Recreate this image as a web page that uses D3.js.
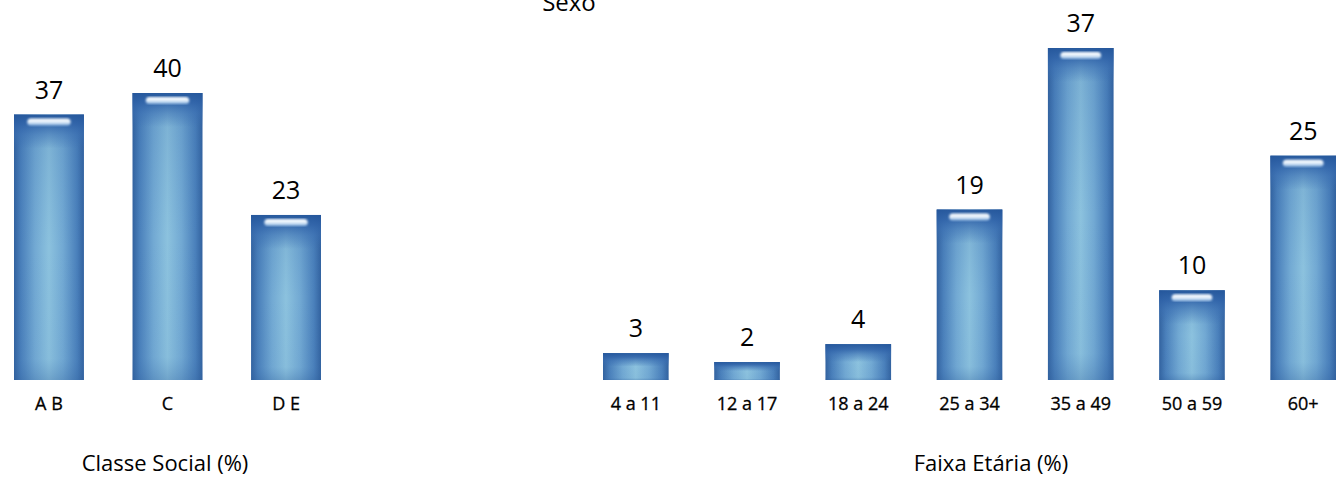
<!DOCTYPE html>
<html>
<head>
<meta charset="utf-8">
<script src="https://cdn.jsdelivr.net/npm/d3@7"></script>
<style>
	body { margin: 0; background: #fff; }
	svg text { font-family: "Open Sans", sans-serif; fill: #000; }
</style>
</head>
<body>
<svg id="svg"></svg>
<script>
// data
const classeCategories = ['A B', 'C', 'D E'];
const classeValues = [37, 40, 23];
const faixaCategories = ['4 a 11', '12 a 17', '18 a 24', '25 a 34', '35 a 49', '50 a 59', '60+'];
const faixaValues = [3, 2, 4, 19, 37, 10, 25];

const width = 1343;
const height = 479;
const baseline = 380;

const svg = d3.select('#svg').attr('width', width).attr('height', height);
const defs = svg.append('defs');

// glossy bar fills
const hGrad = defs.append('linearGradient').attr('id', 'barH').attr('x1', 0).attr('x2', 1).attr('y1', 0).attr('y2', 0);
[[0, '#32629f'], [0.1, '#4a80bb'], [0.3, '#72a9d3'], [0.5, '#8cc2de'], [0.7, '#72a9d3'], [0.9, '#4a80bb'], [1, '#32629f']]
	.forEach(s => hGrad.append('stop').attr('offset', s[0]).attr('stop-color', s[1]));

const vGrad = defs.append('linearGradient').attr('id', 'barV').attr('x1', 0).attr('x2', 0).attr('y1', 0).attr('y2', 1);
[[0, '#2c5c9e', 0.2], [0.5, '#3a6fb0', 0], [0.92, '#3a6fb0', 0.05], [1, '#2d5d9a', 0.3]]
	.forEach(s => vGrad.append('stop').attr('offset', s[0]).attr('stop-color', s[1]).attr('stop-opacity', s[2]));

const topGrad = defs.append('linearGradient').attr('id', 'barTop').attr('x1', 0).attr('x2', 0).attr('y1', 0).attr('y2', 1);
[[0, '#24569b', 0.95], [0.3, '#2f62a8', 0.85], [0.6, '#3a6eb2', 0.5], [1, '#3a6eb2', 0]]
	.forEach(s => topGrad.append('stop').attr('offset', s[0]).attr('stop-color', s[1]).attr('stop-opacity', s[2]));

const shine = defs.append('linearGradient').attr('id', 'shine').attr('x1', 0).attr('x2', 0).attr('y1', 0).attr('y2', 1);
[[0, '#ffffff', 1], [0.5, '#eef7ff', 0.95], [1, '#a9cff2', 0.7]]
	.forEach(s => shine.append('stop').attr('offset', s[0]).attr('stop-color', s[1]).attr('stop-opacity', s[2]));

defs.append('filter').attr('id', 'blur')
	.append('feGaussianBlur').attr('stdDeviation', 1.3);

function drawChart(cats, vals, x0, x1, maxVal, topY, title, titleX) {
	const x = d3.scaleBand()
		.domain(cats)
		.range([x0, x1])
		.paddingInner(0.41)
		.paddingOuter(0);
	const y = d3.scaleLinear()
		.domain([0, maxVal])
		.range([baseline, topY]);

	const data = cats.map((c, i) => ({ cat: c, value: vals[i] }));
	const bw = x.bandwidth();

	const g = svg.append('g');
	const bar = g.selectAll('g.bar')
			.data(data)
			.enter()
		.append('g')
			.attr('class', 'bar');

	bar.append('rect')
		.attr('x', d => x(d.cat))
		.attr('y', d => y(d.value))
		.attr('width', bw)
		.attr('height', d => baseline - y(d.value))
		.attr('fill', 'url(#barH)');

	bar.append('rect')
		.attr('x', d => x(d.cat))
		.attr('y', d => y(d.value))
		.attr('width', bw)
		.attr('height', d => baseline - y(d.value))
		.attr('fill', 'url(#barV)');

	// darker band under the top edge
	bar.append('rect')
		.attr('x', d => x(d.cat))
		.attr('y', d => y(d.value))
		.attr('width', bw)
		.attr('height', d => Math.min(34, (baseline - y(d.value)) * 0.5))
		.attr('fill', 'url(#barTop)');

	// highlight on the taller bars
	bar.filter(d => baseline - y(d.value) > 60)
		.append('rect')
		.attr('x', d => x(d.cat) + bw * 0.19)
		.attr('y', d => y(d.value) + 4)
		.attr('width', bw * 0.62)
		.attr('height', 7)
		.attr('rx', 3.5)
		.attr('fill', 'url(#shine)')
		.attr('filter', 'url(#blur)');

	bar.append('text')
		.attr('x', d => x(d.cat) + bw / 2)
		.attr('y', d => y(d.value) - 16)
		.attr('text-anchor', 'middle')
		.style('font-size', '25px')
		.text(d => d.value);

	bar.append('text')
		.attr('x', d => x(d.cat) + bw / 2)
		.attr('y', 410)
		.attr('text-anchor', 'middle')
		.style('font-size', '18px')
		.style('stroke', '#000')
		.style('stroke-width', 0.3)
		.text(d => d.cat);

	g.append('text')
		.attr('x', titleX)
		.attr('y', 471)
		.attr('text-anchor', 'middle')
		.style('font-size', '22px')
		.text(title);
}

drawChart(classeCategories, classeValues, 14, 321, 40, 93, 'Classe Social (%)', 165);
drawChart(faixaCategories, faixaValues, 603, 1336, 37, 48, 'Faixa Etária (%)', 991);

// heading at the top, cut off in the source
svg.append('text')
	.attr('x', 569)
	.attr('y', 11)
	.attr('text-anchor', 'middle')
	.style('font-size', '24px')
	.text('Sexo');
</script>
</body>
</html>
